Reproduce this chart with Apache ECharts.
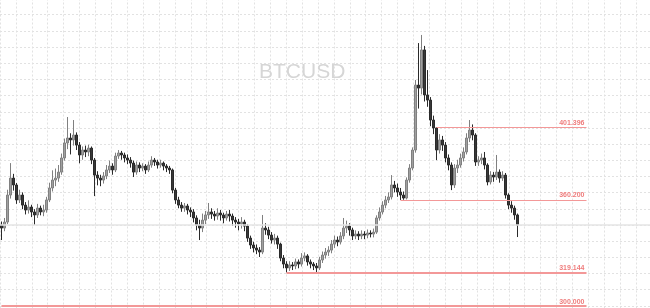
<!DOCTYPE html>
<html>
<head>
<meta charset="utf-8">
<script src="https://cdn.jsdelivr.net/npm/echarts@6/dist/echarts.min.js"></script>
<style>html,body{margin:0;padding:0;background:#fff;}#c{width:650px;height:308px;}</style>
</head>
<body>
<div id="c"></div>
<script>
const title = 'BTCUSD';
const opens = [346.0,344.3,347.7,363.0,372.6,368.7,360.2,363.0,357.3,354.5,356.2,353.4,351.7,355.6,353.4,354.5,360.2,367.0,371.5,372.6,376.0,384.0,392.5,395.3,394.2,397.0,391.3,385.7,388.5,387.4,389.6,382.8,374.3,372.6,371.5,373.8,377.2,379.4,377.2,385.1,386.8,385.7,384.0,382.8,381.1,376.0,380.0,378.3,379.4,377.2,380.0,382.8,381.7,380.0,381.1,379.4,378.3,377.2,365.8,360.2,357.3,355.6,356.8,354.5,353.4,350.0,346.0,344.3,348.8,351.7,353.4,352.2,351.1,352.8,351.7,350.0,352.2,351.1,348.8,347.7,346.6,347.7,345.4,338.6,334.7,333.0,331.8,330.7,344.3,343.2,340.3,337.5,338.6,335.2,327.3,323.9,321.7,323.4,322.8,325.1,323.9,327.3,328.5,325.1,323.9,322.8,321.7,326.2,329.0,330.7,331.8,335.2,337.5,336.4,339.8,344.3,345.4,343.2,339.8,340.9,339.8,340.9,340.3,341.5,340.9,342.0,350.0,353.4,357.3,360.2,361.9,368.7,367.0,364.7,363.0,361.3,371.5,378.3,388.5,425.3,423.6,445.2,419.7,416.8,405.5,401.0,388.5,394.2,391.3,384.0,380.0,368.7,378.3,380.0,384.0,387.4,395.3,399.8,397.0,381.7,382.8,384.0,380.0,370.4,374.3,373.2,376.0,372.6,374.3,363.0,357.3,355.6,351.7];
const closes = [344.3,347.7,363.0,372.6,368.7,360.2,363.0,357.3,354.5,356.2,353.4,351.7,355.6,353.4,354.5,360.2,367.0,371.5,372.6,376.0,384.0,392.5,395.3,394.2,397.0,391.3,385.7,388.5,387.4,389.6,382.8,374.3,372.6,371.5,373.8,377.2,379.4,377.2,385.1,386.8,385.7,384.0,382.8,381.1,376.0,380.0,378.3,379.4,377.2,380.0,382.8,381.7,380.0,381.1,379.4,378.3,377.2,365.8,360.2,357.3,355.6,356.8,354.5,353.4,350.0,346.0,344.3,348.8,351.7,353.4,352.2,351.1,352.8,351.7,350.0,352.2,351.1,348.8,347.7,346.6,347.7,345.4,338.6,334.7,333.0,331.8,330.7,344.3,343.2,340.3,337.5,338.6,335.2,327.3,323.9,321.7,323.4,322.8,325.1,323.9,327.3,328.5,325.1,323.9,322.8,321.7,326.2,329.0,330.7,331.8,335.2,337.5,336.4,339.8,344.3,345.4,343.2,339.8,340.9,339.8,340.9,340.3,341.5,340.9,342.0,350.0,353.4,357.3,360.2,361.9,368.7,367.0,364.7,363.0,361.3,371.5,378.3,388.5,425.3,423.6,445.2,419.7,416.8,405.5,401.0,388.5,394.2,391.3,384.0,380.0,368.7,378.3,380.0,384.0,387.4,395.3,399.8,397.0,381.7,382.8,384.0,380.0,370.4,374.3,373.2,376.0,372.6,374.3,363.0,357.3,355.6,351.7,346.0];
const lows = [337.5,342.5,346.5,361.0,365.5,358.0,358.5,355.0,352.0,352.5,350.5,346.0,350.0,351.5,351.0,353.0,359.0,365.0,368.0,370.5,374.5,382.5,389.0,386.0,391.0,388.5,381.0,383.0,384.5,385.0,380.5,362.4,368.5,368.0,369.5,372.0,375.5,374.5,376.0,383.5,383.0,381.5,380.5,378.5,373.2,374.5,376.0,376.5,375.0,376.0,378.5,379.5,378.0,378.5,377.0,376.0,375.0,364.0,358.0,355.5,353.5,353.5,352.0,350.5,347.5,343.0,337.5,342.0,346.5,349.5,349.5,348.5,349.0,348.5,347.0,348.5,348.0,345.5,344.5,343.0,344.0,342.5,336.5,332.5,330.5,329.5,327.9,329.5,340.5,338.0,335.5,335.0,332.5,325.5,321.5,319.144,320.0,320.5,321.0,321.5,322.5,325.5,323.0,321.5,320.5,319.2,320.5,324.5,327.0,328.5,330.0,333.0,334.0,335.0,338.0,341.5,340.0,337.5,338.0,337.5,338.0,338.0,338.5,339.0,339.0,341.0,348.5,352.0,355.5,358.5,360.5,364.5,362.0,360.2,360.3,360.5,370.0,377.0,387.0,412.0,420.0,416.0,413.0,402.0,397.5,382.8,386.5,388.0,381.5,377.0,365.8,367.0,375.5,378.5,382.0,386.0,393.0,394.0,379.5,379.5,380.5,377.5,368.5,369.0,370.5,371.5,370.0,371.0,361.0,355.0,353.0,349.0,339.2];
const highs = [348.0,350.0,366.0,381.1,375.0,369.8,366.0,364.5,359.0,360.0,357.5,355.0,358.0,357.0,357.5,362.0,370.0,377.0,378.0,380.0,386.5,395.0,407.2,398.0,405.5,398.5,393.0,390.5,391.0,391.5,390.5,384.0,376.5,374.5,376.0,380.0,382.5,381.0,387.0,388.5,388.0,387.0,386.0,384.5,382.5,382.0,381.5,381.0,380.5,382.0,385.0,384.0,383.0,383.0,382.0,380.5,379.5,378.0,367.0,362.0,359.0,358.5,358.0,356.0,355.0,351.5,349.0,352.5,354.0,358.5,355.5,354.0,355.5,354.5,353.0,354.0,354.5,352.5,350.5,349.5,350.5,349.0,346.5,340.0,336.5,335.0,333.5,351.7,347.0,345.0,342.0,341.0,340.0,336.0,329.0,325.5,325.5,325.0,327.0,326.5,330.1,330.5,329.5,326.5,325.0,324.5,328.0,331.0,333.0,334.0,337.5,340.0,339.5,342.0,350.0,348.5,347.0,344.5,343.0,342.5,343.0,342.5,343.5,343.0,344.0,351.5,356.0,359.5,362.5,364.5,374.3,371.0,369.5,367.0,365.0,373.0,380.5,390.0,428.2,449.1,453.7,447.5,433.8,418.5,408.0,401.4,397.5,396.5,393.0,386.0,381.5,380.5,383.0,386.5,390.0,398.0,405.5,403.0,398.0,385.0,386.5,387.4,381.0,376.5,376.0,385.7,377.5,376.5,375.5,364.0,359.5,357.0,352.5];
// horizontal levels: value, index of the candle where the line starts
const levelValues = [401.396, 360.200, 319.144, 300.000];
const levelStarts = [145, 133, 95, 0];
const levelEnd = 195;
const currentPrice = 345.9;
const totalSlots = 217;

const categories = [];
for (let i = 0; i < totalSlots; i++) categories.push(String(i));
const ohlc = opens.map((o, i) => [o, closes[i], lows[i], highs[i]]);

const levelWidths = [1, 1, 2, 2];
const levelLines = levelValues.map((v, k) => [
  {coord: [categories[levelStarts[k]], v], value: v, lineStyle: {width: levelWidths[k]}, label: {formatter: v.toFixed(3)}},
  {coord: [categories[levelEnd], v]}
]);

const chart = echarts.init(document.getElementById('c'), null, {renderer: 'canvas'});
const gridLine = {show: true, lineStyle: {color: '#e2e2e2', type: [2, 2], width: 1}};
const hidden = {axisLine: {show: false}, axisTick: {show: false}, axisLabel: {show: false}};
chart.setOption({
  animation: false,
  backgroundColor: '#ffffff',
  title: {
    text: title, left: 259, top: 62, padding: 0,
    textStyle: {color: '#d6d6d6', fontSize: 21, fontWeight: 'normal', fontFamily: 'Liberation Sans, Arial, sans-serif'}
  },
  grid: [
    {left: 0, top: -1.5, width: 15.9 * 41, height: 16.18 * 20, outerBoundsMode: 'none'},
    {left: 0, top: 0, width: 651, height: 308, outerBoundsMode: 'none'}
  ],
  xAxis: [
    Object.assign({gridIndex: 0, type: 'value', min: 0, max: 41, interval: 1, splitLine: gridLine}, hidden),
    Object.assign({gridIndex: 1, type: 'category', data: categories, boundaryGap: true, splitLine: {show: false}}, hidden)
  ],
  yAxis: [
    Object.assign({gridIndex: 0, type: 'value', min: 0, max: 20, interval: 1, inverse: true, splitLine: gridLine}, hidden),
    Object.assign({gridIndex: 1, type: 'value', min: 299, max: 473.5, splitLine: {show: false}}, hidden)
  ],
  series: [
    {
      type: 'line', xAxisIndex: 1, yAxisIndex: 1, data: [], silent: true,
      markLine: {
        silent: true, symbol: 'none', animation: false,
        label: {show: false},
        lineStyle: {color: '#e4e4e4', type: 'solid', width: 1.5},
        data: [{yAxis: currentPrice}]
      }
    },
    {
      type: 'candlestick', xAxisIndex: 1, yAxisIndex: 1,
      data: ohlc, barWidth: 2,
      itemStyle: {color: '#a0a0a0', color0: '#383838', borderColor: '#808080', borderColor0: '#2a2a2a', borderWidth: 1},
      markLine: {
        silent: true, symbol: 'none', animation: false,
        lineStyle: {color: '#f39898', type: 'solid', width: 1},
        label: {
          show: true, position: 'insideEndTop', distance: [2, 1],
          color: '#ef7c7c', fontSize: 7, fontWeight: 'bold', fontFamily: 'Liberation Sans, Arial, sans-serif'
        },
        data: levelLines
      }
    }
  ]
});
</script>
</body>
</html>
